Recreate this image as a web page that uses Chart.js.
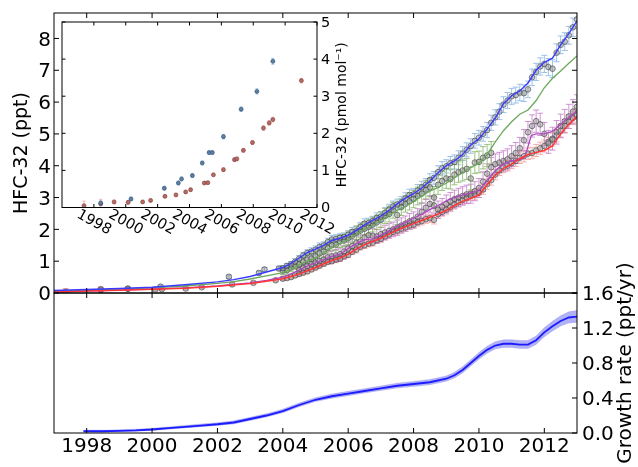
<!DOCTYPE html>
<html><head><meta charset="utf-8">
<script src="https://cdn.jsdelivr.net/npm/chart.js@4.4.1/dist/chart.umd.min.js"></script>
<style>
html,body{margin:0;padding:0;background:#fff;}
#wrap{position:relative;width:638px;height:467px;overflow:hidden;background:#fff;}
canvas{position:absolute;left:0;top:0;width:638px;height:467px;}
</style></head><body>
<div id="wrap">
<canvas id="cMain" width="638" height="467"></canvas>
<canvas id="cGrowth" width="638" height="467"></canvas>
<canvas id="cInset" width="638" height="467"></canvas>
</div>
<script>
// ---------- tick labels ----------
const yearTicks=[1998,2000,2002,2004,2006,2008,2010,2012];
const yearTickLabels=['1998','2000','2002','2004','2006','2008','2010','2012'];
const mainYTicks=[0,1,2,3,4,5,6,7,8];
const mainYLabels=['0','1','2','3','4','5','6','7','8'];
const growthTicks=[0,0.4,0.8,1.2,1.6];
const growthLabels=['0.0','0.4','0.8','1.2','1.6'];
const insetYTicks=[0,1,2,3,4,5];
const insetYLabels=['0','1','2','3','4','5'];

// ---------- observations [year, ppt, error] ----------
const blueObs=[[1998.43,0.12,0.04],[1999.26,0.14,0.04],[2000.26,0.20,0.05],[2002.35,0.51,0.05],[2003.27,0.63,0.06],[2003.44,0.74,0.06],[2003.88,0.77,0.07],
[2004.0,0.78,0.08],[2004.125,0.85,0.08],[2004.25,0.90,0.09],[2004.375,0.98,0.1],[2004.5,1.08,0.1],[2004.625,1.18,0.1],[2004.75,1.26,0.1],[2004.875,1.30,0.12],
[2005.0,1.36,0.12],[2005.125,1.45,0.12],[2005.25,1.49,0.12],[2005.375,1.60,0.12],[2005.5,1.68,0.13],[2005.625,1.70,0.13],[2005.75,1.74,0.12],[2005.875,1.76,0.13],
[2006.0,1.83,0.13],[2006.125,1.92,0.14],[2006.25,1.95,0.14],[2006.375,2.08,0.14],[2006.5,2.18,0.15],[2006.625,2.20,0.15],[2006.75,2.26,0.15],[2006.875,2.36,0.16],
[2007.0,2.40,0.16],[2007.125,2.52,0.16],[2007.25,2.62,0.17],[2007.375,2.72,0.17],[2007.5,2.78,0.17],[2007.625,2.85,0.18],[2007.75,2.97,0.18],[2007.875,3.08,0.18],
[2008.0,3.10,0.18],[2008.125,3.22,0.19],[2008.25,3.32,0.19],[2008.375,3.40,0.2],[2008.5,3.55,0.2],[2008.625,3.62,0.2],[2008.75,3.80,0.2],[2008.875,3.92,0.21],
[2009.0,3.98,0.21],[2009.125,4.08,0.21],[2009.25,4.12,0.22],[2009.375,4.25,0.22],[2009.5,4.38,0.22],[2009.625,4.50,0.22],[2009.75,4.62,0.23],[2009.875,4.78,0.23],
[2010.0,4.88,0.23],[2010.125,5.00,0.23],[2010.25,5.12,0.24],[2010.375,5.35,0.24],[2010.5,5.52,0.24],[2010.625,5.70,0.25],[2010.75,5.92,0.25],[2010.875,6.05,0.25],
[2011.0,6.18,0.25],[2011.125,6.22,0.25],[2011.25,6.30,0.26],[2011.375,6.28,0.26],[2011.5,6.40,0.26],[2011.625,6.78,0.26],[2011.75,6.95,0.27],[2011.875,7.12,0.27],
[2012.0,7.20,0.27],[2012.125,7.10,0.27],[2012.25,7.05,0.28],[2012.375,7.55,0.28],[2012.5,7.80,0.28],[2012.625,7.90,0.28],[2012.75,8.10,0.28],[2012.875,8.35,0.29],[2013.0,8.60,0.29]];

const greenObs=[[2004.0,0.70,0.12],[2004.125,0.72,0.12],[2004.25,0.80,0.13],[2004.375,0.86,0.13],[2004.5,0.90,0.14],[2004.625,0.98,0.14],[2004.75,1.05,0.15],[2004.875,1.08,0.15],
[2005.0,1.15,0.16],[2005.125,1.25,0.16],[2005.25,1.30,0.17],[2005.375,1.42,0.17],[2005.5,1.50,0.18],[2005.625,1.52,0.18],[2005.75,1.62,0.19],[2005.875,1.65,0.19],
[2006.0,1.72,0.2],[2006.125,1.80,0.2],[2006.25,1.90,0.21],[2006.375,1.96,0.21],[2006.5,2.02,0.22],[2006.625,2.08,0.22],[2006.75,2.15,0.23],[2006.875,2.22,0.23],
[2007.0,2.30,0.24],[2007.125,2.42,0.24],[2007.25,2.48,0.25],[2007.375,2.60,0.25],[2007.5,2.45,0.3],[2007.625,2.70,0.26],[2007.75,2.80,0.26],[2007.875,2.88,0.27],
[2008.0,2.95,0.27],[2008.125,3.05,0.28],[2008.25,3.12,0.28],[2008.375,3.25,0.29],[2008.5,3.32,0.29],[2008.625,3.00,0.35],[2008.75,3.40,0.3],[2008.875,3.52,0.3],
[2009.0,3.60,0.31],[2009.125,3.58,0.31],[2009.25,3.72,0.32],[2009.375,3.80,0.32],[2009.5,3.85,0.33],[2009.625,3.90,0.33],[2009.75,3.60,0.36],[2009.875,4.10,0.34],
[2010.0,4.12,0.34],[2010.125,4.25,0.35],[2010.25,4.32,0.35],[2010.375,4.40,0.36]];

const purpleObs=[[2004.5,0.72,0.15],[2004.625,0.78,0.15],[2004.75,0.85,0.16],[2004.875,0.90,0.16],
[2005.0,0.95,0.17],[2005.125,1.00,0.17],[2005.25,1.05,0.18],[2005.375,1.12,0.18],[2005.5,1.15,0.18],[2005.625,1.18,0.19],[2005.75,1.22,0.19],[2005.875,1.30,0.19],
[2006.0,1.40,0.2],[2006.125,1.48,0.2],[2006.25,1.58,0.2],[2006.375,1.62,0.21],[2006.5,1.75,0.21],[2006.625,1.82,0.21],[2006.75,1.80,0.22],[2006.875,1.78,0.22],
[2007.0,1.85,0.22],[2007.125,1.90,0.23],[2007.25,1.95,0.23],[2007.375,2.00,0.23],[2007.5,2.05,0.24],[2007.625,2.12,0.24],[2007.75,2.18,0.24],[2007.875,2.25,0.25],
[2008.0,2.30,0.25],[2008.125,2.40,0.25],[2008.25,2.55,0.26],[2008.375,2.68,0.26],[2008.5,2.80,0.26],[2008.625,2.75,0.27],[2008.75,2.62,0.27],[2008.875,2.70,0.27],
[2009.0,2.80,0.28],[2009.125,2.88,0.28],[2009.25,2.95,0.28],[2009.375,3.00,0.29],[2009.5,3.05,0.29],[2009.625,3.10,0.29],[2009.75,3.12,0.3],[2009.875,3.20,0.3],
[2010.0,3.30,0.3],[2010.125,3.50,0.31],[2010.25,3.75,0.31],[2010.375,3.95,0.31],[2010.5,4.05,0.32],[2010.625,4.10,0.32],[2010.75,4.15,0.32],[2010.875,4.20,0.33],
[2011.0,4.30,0.33],[2011.125,4.40,0.33],[2011.25,4.55,0.34],[2011.375,4.80,0.34],[2011.5,5.05,0.34],[2011.625,5.25,0.35],[2011.75,5.40,0.35],[2011.875,5.30,0.35],
[2012.0,5.00,0.36],[2012.125,4.75,0.36],[2012.25,4.85,0.36],[2012.375,5.05,0.37],[2012.5,5.25,0.37],[2012.625,5.40,0.37],[2012.75,5.55,0.38],[2012.875,5.70,0.38],[2013.0,5.85,0.38]];

const redObs=[[1997.36,0.04,0.1],[1998.43,0.09,0.1],[1999.26,0.13,0.04],[2000.1,0.11,0.04],[2000.3,0.12,0.04],[2001.03,0.14,0.04],[2001.52,0.18,0.04],[2002.45,0.27,0.05],[2003.1,0.32,0.04],[2003.78,0.40,0.05],
[2004.0,0.45,0.06],[2004.125,0.47,0.06],[2004.25,0.50,0.06],[2004.375,0.55,0.06],[2004.5,0.60,0.07],[2004.625,0.64,0.07],[2004.75,0.68,0.07],[2004.875,0.74,0.07],
[2005.0,0.80,0.08],[2005.125,0.86,0.08],[2005.25,0.92,0.08],[2005.375,0.98,0.08],[2005.5,1.00,0.08],[2005.625,1.05,0.09],[2005.75,1.08,0.09],[2005.875,1.15,0.09],
[2006.0,1.20,0.09],[2006.125,1.30,0.09],[2006.25,1.36,0.1],[2006.375,1.45,0.1],[2006.5,1.50,0.1],[2006.625,1.55,0.1],[2006.75,1.58,0.1],[2006.875,1.66,0.1],
[2007.0,1.70,0.11],[2007.125,1.78,0.11],[2007.25,1.84,0.11],[2007.375,1.92,0.11],[2007.5,1.96,0.11],[2007.625,2.02,0.12],[2007.75,2.06,0.12],[2007.875,2.12,0.12],
[2008.0,2.15,0.12],[2008.125,2.22,0.12],[2008.25,2.26,0.12],[2008.375,2.32,0.13],[2008.5,2.35,0.13],[2008.625,2.30,0.13],[2008.75,2.48,0.13],[2008.875,2.55,0.13],
[2009.0,2.62,0.14],[2009.125,2.70,0.14],[2009.25,2.78,0.14],[2009.375,2.85,0.14],[2009.5,2.92,0.14],[2009.625,2.98,0.15],[2009.75,3.05,0.15],[2009.875,3.10,0.15],
[2010.0,3.15,0.15],[2010.125,3.25,0.15],[2010.25,3.42,0.16],[2010.375,3.55,0.16],[2010.5,3.72,0.16],[2010.625,3.85,0.16],[2010.75,3.95,0.17],[2010.875,4.00,0.17],
[2011.0,4.08,0.17],[2011.125,4.15,0.17],[2011.25,4.25,0.18],[2011.375,4.30,0.18],[2011.5,4.38,0.18],[2011.625,4.40,0.18],[2011.75,4.48,0.19],[2011.875,4.55,0.19],
[2012.0,4.62,0.19],[2012.125,4.70,0.19],[2012.25,4.82,0.2],[2012.375,4.95,0.2],[2012.5,5.10,0.2],[2012.625,5.25,0.2],[2012.75,5.38,0.21],[2012.875,5.50,0.21],[2013.0,5.58,0.21]];

// ---------- model lines [year, ppt] ----------
const blueLine=[[1997.0,0.08],[1998.0,0.11],[1999.0,0.14],[2000.0,0.18],[2001.0,0.26],[2002.0,0.35],[2002.5,0.42],[2003.0,0.52],[2003.5,0.66],[2004.0,0.80],[2004.25,0.93],[2004.5,1.10],[2004.75,1.27],[2005.0,1.38],[2005.25,1.50],[2005.5,1.65],[2005.75,1.72],[2006.0,1.82],[2006.25,1.97],[2006.5,2.14],[2006.75,2.28],[2007.0,2.42],[2007.25,2.60],[2007.5,2.80],[2007.75,2.98],[2008.0,3.12],[2008.25,3.30],[2008.5,3.52],[2008.75,3.78],[2009.0,4.00],[2009.25,4.15],[2009.5,4.35],[2009.75,4.65],[2010.0,4.85],[2010.25,5.15],[2010.5,5.50],[2010.75,5.95],[2011.0,6.20],[2011.25,6.35],[2011.5,6.60],[2011.75,7.00],[2012.0,7.25],[2012.25,7.38],[2012.5,7.80],[2012.75,8.15],[2013.0,8.55]];
const greenLine=[[1997.0,0.06],[1998.0,0.09],[1999.0,0.12],[2000.0,0.16],[2001.0,0.22],[2002.0,0.30],[2002.5,0.36],[2003.0,0.44],[2003.5,0.54],[2004.0,0.64],[2004.25,0.75],[2004.5,0.89],[2004.75,1.00],[2005.0,1.10],[2005.25,1.28],[2005.5,1.45],[2005.75,1.55],[2006.0,1.68],[2006.25,1.85],[2006.5,2.00],[2006.75,2.12],[2007.0,2.28],[2007.25,2.45],[2007.5,2.60],[2007.75,2.72],[2008.0,2.88],[2008.25,3.05],[2008.5,3.20],[2008.75,3.32],[2009.0,3.45],[2009.25,3.62],[2009.5,3.78],[2009.75,3.95],[2010.0,4.08],[2010.25,4.35],[2010.5,4.75],[2010.75,5.10],[2011.0,5.38],[2011.25,5.62],[2011.5,5.75],[2011.75,6.05],[2012.0,6.45],[2012.25,6.75],[2012.5,6.98],[2012.75,7.22],[2013.0,7.45]];
const purpleLine=[[1997.0,0.03],[1998.0,0.06],[1999.0,0.09],[2000.0,0.12],[2001.0,0.16],[2002.0,0.22],[2003.0,0.32],[2003.5,0.40],[2004.0,0.50],[2004.25,0.60],[2004.5,0.72],[2004.75,0.85],[2005.0,0.95],[2005.25,1.05],[2005.5,1.15],[2005.75,1.22],[2006.0,1.40],[2006.25,1.55],[2006.5,1.68],[2006.75,1.70],[2007.0,1.82],[2007.25,1.95],[2007.5,2.10],[2007.75,2.22],[2008.0,2.35],[2008.25,2.48],[2008.5,2.62],[2008.75,2.75],[2009.0,2.90],[2009.25,3.00],[2009.5,3.08],[2009.75,3.15],[2010.0,3.22],[2010.25,3.55],[2010.5,3.85],[2010.75,4.05],[2011.0,4.15],[2011.25,4.20],[2011.4,4.25],[2011.6,4.95],[2011.75,5.00],[2012.0,5.00],[2012.25,5.08],[2012.5,5.30],[2012.75,5.52],[2013.0,5.72]];
const redLine=[[1997.0,0.03],[1998.0,0.06],[1999.0,0.09],[2000.0,0.12],[2001.0,0.15],[2002.0,0.21],[2003.0,0.30],[2003.5,0.37],[2004.0,0.45],[2004.25,0.52],[2004.5,0.60],[2004.75,0.70],[2005.0,0.80],[2005.25,0.92],[2005.5,1.02],[2005.75,1.10],[2006.0,1.22],[2006.25,1.38],[2006.5,1.52],[2006.75,1.62],[2007.0,1.72],[2007.25,1.85],[2007.5,1.98],[2007.75,2.08],[2008.0,2.18],[2008.25,2.28],[2008.5,2.38],[2008.75,2.48],[2009.0,2.60],[2009.25,2.75],[2009.5,2.88],[2009.75,2.98],[2010.0,3.08],[2010.25,3.40],[2010.5,3.70],[2010.75,3.92],[2011.0,4.05],[2011.25,4.22],[2011.5,4.35],[2011.75,4.42],[2012.0,4.48],[2012.25,4.62],[2012.5,5.00],[2012.75,5.30],[2013.0,5.55]];

// ---------- growth rate (ppt/yr) ----------
const growthYears=[1997.9,1998.5,1999.0,1999.5,2000.0,2000.5,2001.0,2001.5,2002.0,2002.5,2003.0,2003.5,2004.0,2004.5,2005.0,2005.5,2006.0,2006.5,2007.0,2007.5,2008.0,2008.5,2009.0,2009.25,2009.5,2009.75,2010.0,2010.25,2010.5,2010.75,2011.0,2011.25,2011.5,2011.75,2012.0,2012.25,2012.5,2012.75,2013.0];
const growthRate=[0.02,0.02,0.025,0.03,0.04,0.055,0.07,0.085,0.10,0.12,0.16,0.20,0.25,0.32,0.38,0.42,0.45,0.48,0.51,0.54,0.56,0.58,0.62,0.66,0.72,0.80,0.88,0.95,1.00,1.02,1.02,1.01,1.01,1.06,1.15,1.22,1.28,1.32,1.33];
const growthErr=[0.012,0.012,0.012,0.013,0.014,0.015,0.016,0.017,0.018,0.019,0.02,0.021,0.022,0.023,0.024,0.025,0.026,0.027,0.028,0.029,0.03,0.031,0.032,0.034,0.036,0.038,0.04,0.042,0.044,0.045,0.046,0.047,0.048,0.05,0.053,0.056,0.06,0.065,0.07];

// ---------- inset (pmol/mol) [year, value, error] ----------
const insetBlue=[[1998.43,0.12,0.06],[2000.33,0.23,0.05],[2002.42,0.52,0.05],[2003.3,0.66,0.05],[2003.5,0.77,0.05],[2004.18,0.86,0.05],[2004.8,1.20,0.05],[2005.23,1.48,0.05],[2005.43,1.48,0.05],[2006.13,1.91,0.06],[2007.24,2.65,0.06],[2008.23,3.13,0.07],[2009.23,3.94,0.08]];
const insetRed=[[1997.38,0.05,0.12],[1998.43,0.10,0.12],[1999.27,0.15,0.05],[2000.15,0.14,0.05],[2001.06,0.15,0.04],[2001.56,0.19,0.04],[2002.46,0.30,0.04],[2003.15,0.34,0.04],[2003.76,0.42,0.04],[2004.07,0.48,0.04],[2004.93,0.66,0.04],[2005.15,0.67,0.04],[2005.5,0.88,0.04],[2006.13,1.02,0.05],[2006.82,1.29,0.05],[2006.97,1.31,0.05],[2007.38,1.54,0.05],[2007.95,1.75,0.05],[2008.64,2.14,0.06],[2009.0,2.28,0.06],[2009.23,2.37,0.06],[2011.02,3.42,0.06]];

// ---------- helpers ----------
const FONT='"DejaVu Sans", Verdana, sans-serif';
const toXY=a=>a.map(p=>({x:p[0],y:p[1],e:p[2]}));

const errorBarPlugin={
  id:'errbars',
  beforeDatasetsDraw(chart){
    const ctx=chart.ctx,a=chart.chartArea,xs=chart.scales.x,ys=chart.scales.y;
    ctx.save();
    ctx.beginPath();ctx.rect(a.left,a.top,a.right-a.left,a.bottom-a.top);ctx.clip();
    chart.data.datasets.forEach(ds=>{
      if(!ds.errColor)return;
      ctx.strokeStyle=ds.errColor;ctx.lineWidth=ds.errWidth||1;
      const cap=ds.capW||3;
      ds.data.forEach(p=>{
        if(p.e==null)return;
        const px=xs.getPixelForValue(p.x),y1=ys.getPixelForValue(p.y-p.e),y2=ys.getPixelForValue(p.y+p.e);
        ctx.beginPath();
        ctx.moveTo(px,y1);ctx.lineTo(px,y2);
        ctx.moveTo(px-cap,y1);ctx.lineTo(px+cap,y1);
        ctx.moveTo(px-cap,y2);ctx.lineTo(px+cap,y2);
        ctx.stroke();
      });
    });
    ctx.restore();
  }
};

function axesPlugin(cfg){
  return {id:'axes_'+cfg.name,afterDraw(chart){
    const ctx=chart.ctx,a=chart.chartArea,xs=chart.scales.x,ys=chart.scales.y;
    ctx.save();
    ctx.strokeStyle='#000';ctx.lineWidth=cfg.frameW||1;
    ctx.strokeRect(a.left,a.top,a.right-a.left,a.bottom-a.top);
    ctx.lineWidth=1;
    const L=cfg.tickLen;
    ctx.beginPath();
    (cfg.xTicks||[]).forEach(v=>{const px=xs.getPixelForValue(v);
      if(cfg.xTop){ctx.moveTo(px,a.top);ctx.lineTo(px,a.top+L);}
      if(cfg.xBottom){ctx.moveTo(px,a.bottom);ctx.lineTo(px,a.bottom-L);}
    });
    (cfg.yTicks||[]).forEach(v=>{const py=ys.getPixelForValue(v);
      if(cfg.yLeft){ctx.moveTo(a.left,py);ctx.lineTo(a.left+L,py);}
      if(cfg.yRight){ctx.moveTo(a.right,py);ctx.lineTo(a.right-L,py);}
    });
    ctx.stroke();
    ctx.fillStyle='#000';
    if(cfg.xLabels){const o=cfg.xLabels;ctx.font=o.font;
      o.values.forEach((v,i)=>{const px=xs.getPixelForValue(v);
        ctx.save();ctx.translate(px,a.bottom+o.dy);ctx.rotate(o.rot||0);
        ctx.textAlign='center';ctx.textBaseline='middle';ctx.fillText(o.texts[i],0,0);ctx.restore();});
    }
    if(cfg.yLabels){const o=cfg.yLabels;ctx.font=o.font;ctx.textAlign=o.align;ctx.textBaseline='middle';
      o.values.forEach((v,i)=>{const py=ys.getPixelForValue(v)+(o.dyOff||0);
        const x=o.side==='left'?a.left-o.dx:a.right+o.dx;ctx.fillText(o.texts[i],x,py);});
    }
    (cfg.titles||[]).forEach(t=>{ctx.save();ctx.font=t.font;ctx.textAlign='center';ctx.textBaseline='middle';
      const cy=(a.top+a.bottom)/2;
      ctx.translate(t.side==='left'?a.left-t.dx:a.right+t.dx,cy);ctx.rotate(-Math.PI/2);ctx.fillText(t.text,0,0);ctx.restore();});
    ctx.restore();
  }};
}

function baseOptions(pad,xr,yr){
  return {responsive:false,animation:false,events:[],
    layout:{padding:pad},
    plugins:{legend:{display:false},tooltip:{enabled:false}},
    scales:{x:{type:'linear',min:xr[0],max:xr[1],display:false},
            y:{type:'linear',min:yr[0],max:yr[1],display:false}}};
}

function obsSet(arr,err,order){
  return {data:toXY(arr),showLine:false,pointRadius:2.8,pointBackgroundColor:'rgba(140,140,140,0.45)',
    pointBorderColor:'rgba(60,60,60,0.75)',pointBorderWidth:0.8,errColor:err,errWidth:1,capW:3,order:order};
}
function lineSet(arr,color,w,order){
  return {data:toXY(arr),showLine:true,pointRadius:0,borderColor:color,borderWidth:w,fill:false,order:order};
}

// ---------- main panel ----------
new Chart(document.getElementById('cMain'),{
  type:'scatter',
  data:{datasets:[
    lineSet(blueLine,'#3a3aff',1.4,0),
    lineSet(redLine,'#ff3535',1.5,1),
    lineSet(purpleLine,'#b048c0',1.3,2),
    lineSet(greenLine,'#6aa85a',1.3,3),
    obsSet(blueObs,'rgba(140,185,230,0.85)',4),
    obsSet(redObs,'rgba(245,160,160,0.85)',5),
    obsSet(purpleObs,'rgba(200,130,205,0.85)',6),
    obsSet(greenObs,'rgba(140,185,110,0.85)',7)
  ]},
  options:baseOptions({left:54,right:61,top:13,bottom:174},[1997,2013],[0,8.8]),
  plugins:[errorBarPlugin,axesPlugin({name:'main',tickLen:5,xTicks:yearTicks,xTop:true,xBottom:true,
    yTicks:mainYTicks,yLeft:true,yRight:true,
    yLabels:{values:mainYTicks,texts:mainYLabels,side:'left',dx:3,dyOff:2,align:'right',font:'20px '+FONT},
    titles:[{text:'HFC-32 (ppt)',side:'left',dx:32,font:'19px '+FONT}]})]
});

// ---------- growth-rate panel ----------
const gLow=growthYears.map((x,i)=>({x:x,y:growthRate[i]-growthErr[i]}));
const gHigh=growthYears.map((x,i)=>({x:x,y:growthRate[i]+growthErr[i]}));
const gMid=growthYears.map((x,i)=>({x:x,y:growthRate[i]}));
new Chart(document.getElementById('cGrowth'),{
  type:'scatter',
  data:{datasets:[
    {data:gLow,showLine:true,pointRadius:0,borderColor:'rgba(0,0,0,0)',borderWidth:0,fill:false,order:2},
    {data:gHigh,showLine:true,pointRadius:0,borderColor:'rgba(110,110,235,0.5)',borderWidth:0.5,fill:'-1',backgroundColor:'rgba(100,100,235,0.5)',order:1},
    {data:gMid,showLine:true,pointRadius:0,borderColor:'#1c1cff',borderWidth:1.8,fill:false,order:0}
  ]},
  options:baseOptions({left:54,right:61,top:293,bottom:34},[1997,2013],[0,1.6]),
  plugins:[axesPlugin({name:'growth',tickLen:5,xTicks:yearTicks,xTop:true,xBottom:true,
    yTicks:growthTicks,yLeft:false,yRight:true,
    xLabels:{values:yearTicks,texts:yearTickLabels,dy:13.5,font:'20px '+FONT},
    yLabels:{values:growthTicks,texts:growthLabels,side:'right',dx:5,dyOff:2,align:'left',font:'20px '+FONT},
    titles:[{text:'Growth rate (ppt/yr)',side:'right',dx:49,font:'20px '+FONT}]})]
});

// ---------- inset ----------
function insetSet(arr,fill,edge,err){
  return {data:toXY(arr),showLine:false,pointRadius:2,pointBackgroundColor:fill,pointBorderColor:edge,pointBorderWidth:0.6,
    errColor:err,errWidth:1,capW:1.5};
}
new Chart(document.getElementById('cInset'),{
  type:'scatter',
  data:{datasets:[
    insetSet(insetBlue,'#5d7fa3','#2f4d6e','rgba(140,185,230,0.8)'),
    insetSet(insetRed,'#b56a66','#7a3a36','rgba(245,160,160,0.8)')
  ]},
  options:baseOptions({left:62,right:321,top:22,bottom:259.5},[1996,2012],[0,5]),
  plugins:[errorBarPlugin,axesPlugin({name:'inset',tickLen:3.5,xTicks:yearTicks,xTop:true,xBottom:true,
    yTicks:insetYTicks,yLeft:true,yRight:true,
    xLabels:{values:yearTicks,texts:yearTickLabels,dy:15,rot:0.5,font:'14.5px '+FONT},
    yLabels:{values:insetYTicks,texts:insetYLabels,side:'right',dx:4,dyOff:1,align:'left',font:'14.5px '+FONT},
    titles:[{text:'HFC-32 (pmol mol\u207B\u00B9)',side:'right',dx:25,font:'14px '+FONT}]})]
});
</script>
</body></html>
